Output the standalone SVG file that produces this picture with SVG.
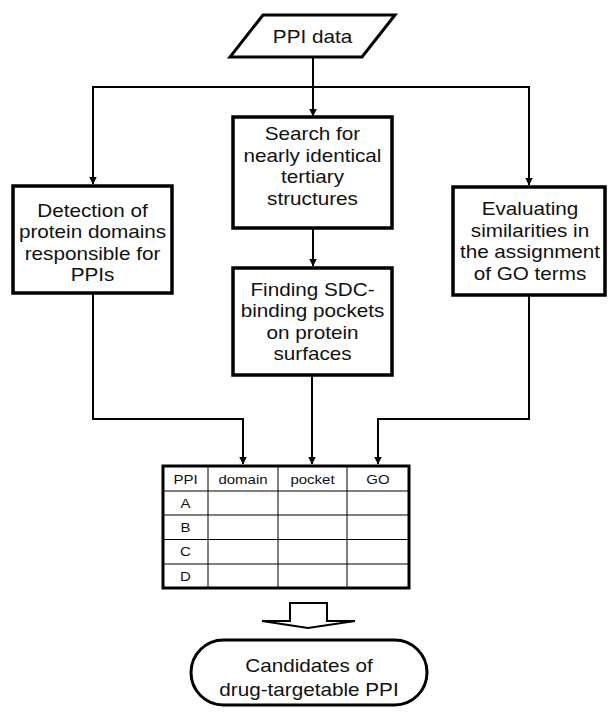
<svg xmlns="http://www.w3.org/2000/svg" width="608" height="713" viewBox="0 0 608 713">
<style>
.box{fill:#fff;stroke:#000;stroke-width:3.5}
.ln{fill:none;stroke:#000;stroke-width:2}
.t{font-family:"Liberation Sans",Arial,sans-serif;font-size:18px;text-anchor:middle;fill:#111}
.tt{font-family:"Liberation Sans",Arial,sans-serif;font-size:12.5px;text-anchor:middle;fill:#111}
.grid{stroke:#000;stroke-width:1;fill:none}
</style>
<defs>
<marker id="ah" markerUnits="userSpaceOnUse" markerWidth="8" markerHeight="9" refX="7.5" refY="4" orient="auto">
<path d="M0,0 L8,4 L0,8 Z" fill="#000"/>
</marker>
</defs>
<rect width="608" height="713" fill="#fff"/>
<g id="connectors">
<line class="ln" x1="313" y1="57" x2="313" y2="116" marker-end="url(#ah)"/>
<polyline class="ln" points="529,87 93,87 93,184" marker-end="url(#ah)"/>
<polyline class="ln" points="313,87 529,87 529,185" marker-end="url(#ah)"/>
<line class="ln" x1="313" y1="228" x2="313" y2="266" marker-end="url(#ah)"/>
<polyline class="ln" points="93,293 93,419 243,419 243,464" marker-end="url(#ah)"/>
<line class="ln" x1="312" y1="375" x2="312" y2="464" marker-end="url(#ah)"/>
<polyline class="ln" points="529,296 529,419 378,419 378,464" marker-end="url(#ah)"/>
<polygon points="290,603 327,603 327,621 355,621 308,628 262,621 290,621" fill="#fff" stroke="#000" stroke-width="2"/>
</g>
<g id="ppi-data">
<polygon points="263,15 395,15 362,57 230,57" fill="#fff" stroke="#000" stroke-width="3"/>
<text class="t" transform="translate(312.5,43) scale(1.15,1)">PPI data</text>
</g>
<g id="detection">
<rect class="box" x="13" y="186" width="159" height="107"/>
<text class="t" transform="translate(92.5,216.5) scale(1.15,1)">Detection of</text>
<text class="t" transform="translate(92.5,238) scale(1.15,1)">protein domains</text>
<text class="t" transform="translate(92.5,259.5) scale(1.15,1)">responsible for</text>
<text class="t" transform="translate(92.5,281) scale(1.15,1)">PPIs</text>
</g>
<g id="search">
<rect class="box" x="233" y="117" width="159" height="111"/>
<text class="t" transform="translate(312.5,140) scale(1.15,1)">Search for</text>
<text class="t" transform="translate(312.5,161.5) scale(1.15,1)">nearly identical</text>
<text class="t" transform="translate(312.5,183) scale(1.15,1)">tertiary</text>
<text class="t" transform="translate(312.5,204.5) scale(1.15,1)">structures</text>
</g>
<g id="finding">
<rect class="box" x="233" y="268" width="159" height="107"/>
<text class="t" transform="translate(312.5,295.5) scale(1.15,1)">Finding SDC-</text>
<text class="t" transform="translate(312.5,317) scale(1.15,1)">binding pockets</text>
<text class="t" transform="translate(312.5,338.5) scale(1.15,1)">on protein</text>
<text class="t" transform="translate(312.5,360) scale(1.15,1)">surfaces</text>
</g>
<g id="evaluating">
<rect class="box" x="453" y="187" width="152" height="108"/>
<text class="t" transform="translate(530,215) scale(1.15,1)">Evaluating</text>
<text class="t" transform="translate(530,236.5) scale(1.15,1)">similarities in</text>
<text class="t" transform="translate(530,258) scale(1.15,1)">the assignment</text>
<text class="t" transform="translate(530,279.5) scale(1.15,1)">of GO terms</text>
</g>
<g id="table">
<rect x="163" y="466" width="246" height="122" fill="#fff" stroke="#000" stroke-width="3"/>
<path class="grid" d="M208,466V588 M278,466V588 M347,466V588 M163,491H409 M163,515H409 M163,539.5H409 M163,564H409"/>
<text class="tt" transform="translate(185.5,484) scale(1.2,1)">PPI</text>
<text class="tt" transform="translate(243,484) scale(1.2,1)">domain</text>
<text class="tt" transform="translate(312.5,484) scale(1.2,1)">pocket</text>
<text class="tt" transform="translate(378,484) scale(1.2,1)">GO</text>
<text class="tt" transform="translate(185.5,507.5) scale(1.2,1)">A</text>
<text class="tt" transform="translate(185.5,532) scale(1.2,1)">B</text>
<text class="tt" transform="translate(185.5,556) scale(1.2,1)">C</text>
<text class="tt" transform="translate(185.5,580.5) scale(1.2,1)">D</text>
</g>
<g id="candidates">
<rect x="191" y="640" width="236" height="65" rx="32.5" fill="#fff" stroke="#000" stroke-width="3"/>
<text class="t" transform="translate(309,672) scale(1.15,1)">Candidates of</text>
<text class="t" transform="translate(309,696) scale(1.15,1)">drug-targetable PPI</text>
</g>
</svg>
